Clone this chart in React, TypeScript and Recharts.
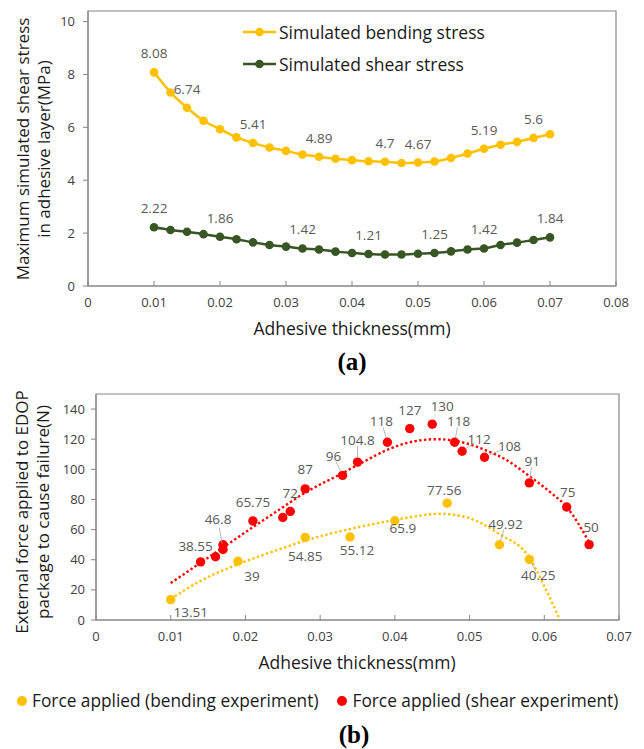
import React from "react";
import {
  LineChart,
  ComposedChart,
  Line,
  Scatter,
  XAxis,
  YAxis,
  ReferenceArea,
  LabelList,
  Legend,
} from "recharts";

// ---- (a) simulated stress vs adhesive thickness ----
const thickness = [
  0.01, 0.0125, 0.015, 0.0175, 0.02, 0.0225, 0.025, 0.0275, 0.03, 0.0325,
  0.035, 0.0375, 0.04, 0.0425, 0.045, 0.0475, 0.05, 0.0525, 0.055, 0.0575,
  0.06, 0.0625, 0.065, 0.0675, 0.07,
];
const bendingStress = [
  8.08, 7.32, 6.74, 6.25, 5.93, 5.62, 5.41, 5.24, 5.11, 4.97, 4.89, 4.81,
  4.76, 4.72, 4.7, 4.65, 4.67, 4.71, 4.84, 5.01, 5.19, 5.34, 5.45, 5.6, 5.74,
];
const shearStress = [
  2.22, 2.12, 2.05, 1.96, 1.86, 1.77, 1.65, 1.55, 1.49, 1.42, 1.38, 1.3, 1.25,
  1.21, 1.19, 1.19, 1.22, 1.25, 1.31, 1.38, 1.42, 1.55, 1.64, 1.74, 1.84,
];
// which points carry a value label
const bendingLabelAt = [0, 2, 6, 10, 14, 16, 20, 23];
const shearLabelAt = [0, 4, 9, 13, 17, 20, 24];
const stressTicksX = [0, 0.01, 0.02, 0.03, 0.04, 0.05, 0.06, 0.07, 0.08];
const stressTicksY = [0, 2, 4, 6, 8, 10];

// ---- (b) experimental failure force ----
const bendExpX = [0.01, 0.019, 0.028, 0.034, 0.04, 0.047, 0.054, 0.058];
const bendExpForce = [13.51, 39, 54.85, 55.12, 65.9, 77.56, 49.92, 40.25];
const bendExpLabelled = [true, true, true, true, true, true, true, true];

const shearExpX = [
  0.014, 0.016, 0.017, 0.017, 0.021, 0.025, 0.026, 0.028, 0.033, 0.035, 0.039,
  0.042, 0.045, 0.048, 0.049, 0.052, 0.058, 0.063, 0.066,
];
const shearExpForce = [
  38.55, 42, 49.9, 46.8, 65.75, 68, 72, 87, 96, 104.8, 118, 127, 130, 118, 112,
  108, 91, 75, 50,
];
const shearExpLabelled = [
  true, false, false, true, true, false, true, true, true, true, true, true,
  true, true, true, true, true, true, true,
];

// dotted trend lines
const bendTrendX = [
  0.01, 0.014, 0.019, 0.024, 0.028, 0.034, 0.04, 0.043, 0.046, 0.048, 0.05,
  0.054, 0.058, 0.0601, 0.0621,
];
const bendTrendY = [
  14, 26, 37, 46, 52.7, 60.4, 66.4, 69, 70.5, 69.8, 67.5, 57, 41.5, 21.5, 0,
];
const shearTrendX = [
  0.01, 0.014, 0.018, 0.021, 0.024, 0.028, 0.033, 0.036, 0.039, 0.042, 0.0455,
  0.048, 0.052, 0.055, 0.058, 0.061, 0.063, 0.066,
];
const shearTrendY = [
  24.5, 38, 51.5, 61.6, 71.5, 84.5, 97.5, 105.5, 113, 118, 120, 119, 113, 106,
  95.5, 84, 75, 51.6,
];
const forceTicksX = [0, 0.01, 0.02, 0.03, 0.04, 0.05, 0.06, 0.07];
const forceTicksY = [0, 20, 40, 60, 80, 100, 120, 140];

// label placement relative to the marker: [dx, dy, leader line]
const bendLabelPos: [number, number, boolean][] = [
  [20, 12, false], [14, 15, false], [0, 19, false], [7, 13, false],
  [8, 7, false], [-3, -13, false], [6, -21, true], [9, 16, true],
];
const shearLabelPos: [number, number, boolean][] = [
  [-5, -16, false], [0, 0, false], [0, 0, false], [-5, -30, true],
  [0, -19, false], [0, 0, false], [0, -19, false], [0, -20, false],
  [-9, -19, true], [0, -22, true], [-6, -21, true], [0, -19, false],
  [10, -18, false], [4, -21, true], [17, -12, true], [25, -11, true],
  [3, -22, true], [1, -15, false], [2, -18, false],
];

const FONT = "'Open Sans', sans-serif";
const AXIS = "#868686";
const TICK = { fill: "#404040", fontSize: 13, fontFamily: FONT };
const LABEL = "#595959";
const TITLE = "#1a1a1a";
const YELLOW = "#FFC000";
const GREEN = "#375623";
const RED = "#FF0000";

const stressRows = thickness.map((x, i) => ({
  x,
  bending: bendingStress[i],
  shear: shearStress[i],
  bendingLabel: bendingLabelAt.includes(i) ? bendingStress[i] : null,
  shearLabel: shearLabelAt.includes(i) ? shearStress[i] : null,
}));

const bendRows = bendExpX.map((x, i) => ({
  x,
  y: bendExpForce[i],
  label: bendExpLabelled[i] ? String(bendExpForce[i]) : null,
  pos: bendLabelPos[i],
}));
const shearRows = shearExpX.map((x, i) => ({
  x,
  y: shearExpForce[i],
  label: shearExpLabelled[i] ? String(shearExpForce[i]) : null,
  pos: shearLabelPos[i],
}));
const bendTrend = bendTrendX.map((x, i) => ({ x, y: bendTrendY[i] }));
const shearTrend = shearTrendX.map((x, i) => ({ x, y: shearTrendY[i] }));

const fmtX = (v: number) => (v === 0 ? "0" : String(v));

const pointLabel = (props: any) => {
  const { x, y, value } = props;
  if (value === null || value === undefined) return null;
  return (
    <text x={x} y={y - 14} textAnchor="middle" fill={LABEL} fontSize={13.5} fontFamily={FONT}>
      {value}
    </text>
  );
};

const labelledDot = (color: string) => (props: any) => {
  const { cx, cy, payload } = props;
  const [dx, dy, leader] = payload.pos;
  return (
    <g>
      <circle cx={cx} cy={cy} r={4.7} fill={color} />
      {payload.label && leader && (
        <line
          x1={cx + dx * 0.2}
          y1={cy + dy * 0.2}
          x2={cx + dx * 0.72}
          y2={cy + dy * 0.72}
          stroke="#A6A6A6"
          strokeWidth={0.8}
        />
      )}
      {payload.label && (
        <text
          x={cx + dx}
          y={cy + dy + 5}
          textAnchor="middle"
          fill={LABEL}
          fontSize={13.5}
          fontFamily={FONT}
        >
          {payload.label}
        </text>
      )}
    </g>
  );
};

const StressLegend = ({ payload }: any) => (
  <div style={{ fontFamily: FONT, fontSize: 17.5, color: TITLE, whiteSpace: "nowrap" }}>
    {(payload || [])
      .filter((p: any) => p.type !== "none")
      .map((p: any) => (
        <div key={p.value} style={{ display: "flex", alignItems: "center", height: 32 }}>
          <svg width={33} height={12} style={{ marginRight: 3 }}>
            <line x1={0} y1={6} x2={33} y2={6} stroke={p.color} strokeWidth={2.5} />
            <circle cx={16.5} cy={6} r={4.3} fill={p.color} />
          </svg>
          <span>{p.value}</span>
        </div>
      ))}
  </div>
);

const ForceLegend = ({ payload }: any) => (
  <div style={{ display: "flex", fontFamily: FONT, fontSize: 17.3, color: TITLE, whiteSpace: "nowrap" }}>
    {(payload || [])
      .filter((p: any) => p.type !== "none")
      .map((p: any) => (
        <div key={p.value} style={{ display: "flex", alignItems: "center", marginRight: 19 }}>
          <svg width={10} height={10} style={{ marginRight: 5 }}>
            <circle cx={5} cy={5} r={5} fill={p.color} />
          </svg>
          <span>{p.value}</span>
        </div>
      ))}
  </div>
);

const rotatedTitle = (lines: string[], cx: number, cy: number) => (
  <div
    style={{
      position: "absolute",
      left: cx - 160,
      top: cy - lines.length * 10.5,
      width: 320,
      height: lines.length * 21,
      lineHeight: "21px",
      textAlign: "center",
      fontSize: 17,
      fontFamily: FONT,
      color: TITLE,
      transform: "rotate(-90deg)",
      whiteSpace: "nowrap",
    }}
  >
    {lines.map((l) => (
      <div key={l}>{l}</div>
    ))}
  </div>
);

const centeredText = (text: string, cx: number, cy: number, style: React.CSSProperties) => (
  <div
    style={{
      position: "absolute",
      left: cx - 200,
      top: cy - 13,
      width: 400,
      height: 26,
      lineHeight: "26px",
      textAlign: "center",
      whiteSpace: "nowrap",
      ...style,
    }}
  >
    {text}
  </div>
);

export default function App() {
  return (
    <div
      style={{
        position: "absolute",
        left: 0,
        top: 0,
        width: 644,
        height: 749,
        background: "#fff",
        fontFamily: FONT,
        overflow: "hidden",
      }}
    >
      <div style={{ position: "absolute", left: 0, top: 0 }}>
        <LineChart
          width={644}
          height={380}
          data={stressRows}
          margin={{ top: 11, right: 28, bottom: 69, left: 58 }}
        >
          <XAxis
            type="number"
            dataKey="x"
            domain={[0, 0.08]}
            ticks={stressTicksX}
            tickFormatter={fmtX}
            height={25}
            tickSize={-5}
            tickMargin={17}
            stroke={AXIS}
            tick={TICK}
            interval={0}
          />
          <YAxis
            type="number"
            domain={[0, 10.4]}
            ticks={stressTicksY}
            width={30}
            tickSize={5}
            tickMargin={8}
            stroke={AXIS}
            tick={TICK}
            interval={0}
          />
          <ReferenceArea x1={0} x2={0.08} y1={0} y2={10.4} fill="none" stroke={AXIS} strokeWidth={1.2} />
          <Line
            name="Simulated bending stress"
            type="monotone"
            dataKey="bending"
            stroke={YELLOW}
            strokeWidth={2.5}
            dot={{ r: 4.3, fill: YELLOW, stroke: YELLOW, strokeWidth: 0 }}
            activeDot={false}
            isAnimationActive={false}
          >
            <LabelList dataKey="bendingLabel" content={pointLabel} />
          </Line>
          <Line
            name="Simulated shear stress"
            type="monotone"
            dataKey="shear"
            stroke={GREEN}
            strokeWidth={2.5}
            dot={{ r: 4.3, fill: GREEN, stroke: GREEN, strokeWidth: 0 }}
            activeDot={false}
            isAnimationActive={false}
          >
            <LabelList dataKey="shearLabel" content={pointLabel} />
          </Line>
          <Legend
            layout="vertical"
            align="center"
            verticalAlign="middle"
            wrapperStyle={{ top: 16, left: 243, width: "auto" }}
            content={StressLegend}
          />
        </LineChart>
      </div>
      {rotatedTitle(["Maximum simulated shear stress", "in adhesive layer(MPa)"], 33, 149)}
      {centeredText("Adhesive thickness(mm)", 352, 328, { fontSize: 17.5, color: TITLE })}
      {centeredText("(a)", 352, 362, {
        fontSize: 25,
        fontWeight: "bold",
        fontFamily: "'Liberation Serif', serif",
        color: "#000",
      })}

      <div style={{ position: "absolute", left: 0, top: 380 }}>
        <ComposedChart
          width={644}
          height={369}
          margin={{ top: 14, right: 25, bottom: 104, left: 66 }}
        >
          <XAxis
            type="number"
            dataKey="x"
            domain={[0, 0.07]}
            ticks={forceTicksX}
            tickFormatter={fmtX}
            height={25}
            tickSize={-5}
            tickMargin={17}
            stroke={AXIS}
            tick={TICK}
            interval={0}
            allowDataOverflow
          />
          <YAxis
            type="number"
            dataKey="y"
            domain={[0, 150]}
            ticks={forceTicksY}
            width={30}
            tickSize={5}
            tickMargin={6}
            stroke={AXIS}
            tick={TICK}
            interval={0}
            allowDataOverflow
          />
          <ReferenceArea x1={0} x2={0.07} y1={0} y2={150} fill="none" stroke={AXIS} strokeWidth={1.2} />
          <Line
            data={bendTrend}
            dataKey="y"
            type="monotone"
            stroke={YELLOW}
            strokeWidth={2.4}
            strokeDasharray="2.4 2.4"
            dot={false}
            activeDot={false}
            legendType="none"
            isAnimationActive={false}
          />
          <Line
            data={shearTrend}
            dataKey="y"
            type="monotone"
            stroke={RED}
            strokeWidth={2.4}
            strokeDasharray="2.4 2.4"
            dot={false}
            activeDot={false}
            legendType="none"
            isAnimationActive={false}
          />
          <Scatter
            name="Force applied (bending experiment)"
            data={bendRows}
            fill={YELLOW}
            shape={labelledDot(YELLOW)}
            isAnimationActive={false}
          />
          <Scatter
            name="Force applied (shear experiment)"
            data={shearRows}
            fill={RED}
            shape={labelledDot(RED)}
            isAnimationActive={false}
          />
          <Legend
            layout="vertical"
            align="center"
            verticalAlign="middle"
            wrapperStyle={{ top: 309, left: 17, width: "auto" }}
            content={ForceLegend}
          />
        </ComposedChart>
      </div>
      {rotatedTitle(["External force applied to EDOP", "package to cause failure(N)"], 32, 512)}
      {centeredText("Adhesive thickness(mm)", 357, 662, { fontSize: 17.5, color: TITLE })}
      {centeredText("(b)", 354, 735, {
        fontSize: 25,
        fontWeight: "bold",
        fontFamily: "'Liberation Serif', serif",
        color: "#000",
      })}
    </div>
  );
}
